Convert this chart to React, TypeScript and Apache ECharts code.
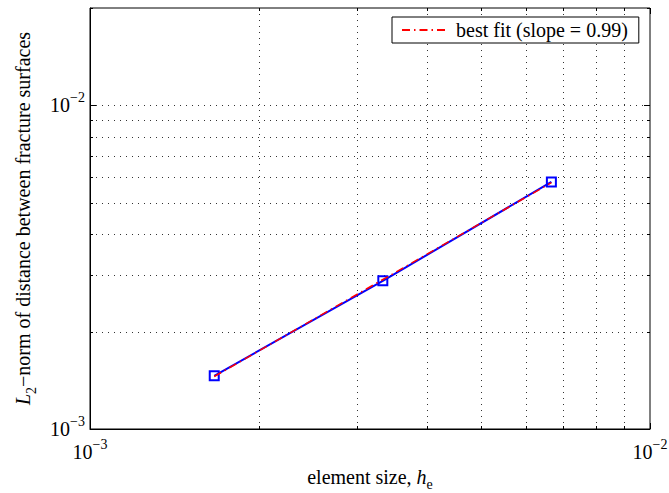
import React, { useEffect, useRef } from "react";
import * as echarts from "echarts";

// ---- data ----
const X_MIN = 0.001;
const X_MAX = 0.01;
const Y_MIN = 0.001;
const Y_MAX = 0.02;

const elementSize = [0.0016667, 0.0033333, 0.0066667];
const l2Norm = [0.00146, 0.00287, 0.0058];

const fitX = [0.0016667, 0.0066667];
const fitY = [0.001453, 0.005774];
const fitName = "best fit (slope = 0.99)";

const xTicks = [0.001, 0.002, 0.003, 0.004, 0.005, 0.006, 0.007, 0.008, 0.009, 0.01];
const yTicks = [0.001, 0.002, 0.003, 0.004, 0.005, 0.006, 0.007, 0.008, 0.009, 0.01, 0.02];

const FONT = "'Liberation Serif', 'Times New Roman', serif";

const isPow10 = (v: number) => {
  const l = Math.log10(v);
  return Math.abs(l - Math.round(l)) < 1e-6;
};

const tickLabel = (v: number) => {
  if (!isPow10(v)) return "";
  const e = Math.round(Math.log10(v));
  return "{b|10}{s|" + (e < 0 ? "\u2212" + Math.abs(e) : String(e)) + "}";
};

const labelRich = {
  b: { fontFamily: FONT, fontSize: 20, color: "#000", lineHeight: 30, verticalAlign: "middle" },
  s: { fontFamily: FONT, fontSize: 14, color: "#000", lineHeight: 14, verticalAlign: "top" },
};

const nameRich = {
  n: { fontFamily: FONT, fontSize: 20, color: "#000", lineHeight: 30, verticalAlign: "middle" },
  i: { fontFamily: FONT, fontSize: 20, fontStyle: "italic", color: "#000", lineHeight: 30, verticalAlign: "middle" },
  sub: { fontFamily: FONT, fontSize: 14, color: "#000", lineHeight: 13, verticalAlign: "bottom" },
};

function renderXTick(params: any, api: any) {
  const v = api.value(0);
  const cs = params.coordSys;
  const p = api.coord([v, Y_MIN]);
  const x = Math.round(p[0]) + 0.5;
  const top = cs.y;
  const bottom = cs.y + cs.height;
  const len = isPow10(v) ? 6 : 3;
  const children: any[] = [];
  if (x > cs.x + 2 && x < cs.x + cs.width - 2) {
    children.push({
      type: "line",
      shape: { x1: x, y1: bottom, x2: x, y2: top },
      style: { stroke: "#333", lineWidth: 1, lineDash: [1, 5] },
      silent: true,
    });
  }
  children.push({ type: "line", shape: { x1: x, y1: bottom, x2: x, y2: bottom - len }, style: { stroke: "#000", lineWidth: 1 } });
  children.push({ type: "line", shape: { x1: x, y1: top, x2: x, y2: top + len }, style: { stroke: "#000", lineWidth: 1 } });
  return { type: "group", children };
}

function renderYTick(params: any, api: any) {
  const v = api.value(1);
  const cs = params.coordSys;
  const p = api.coord([X_MIN, v]);
  const y = Math.round(p[1]) + 0.5;
  const left = cs.x;
  const right = cs.x + cs.width;
  const len = isPow10(v) ? 6 : 3;
  const children: any[] = [];
  if (y > cs.y + 2 && y < cs.y + cs.height - 2) {
    children.push({
      type: "line",
      shape: { x1: left, y1: y, x2: right, y2: y },
      style: { stroke: "#333", lineWidth: 1, lineDash: [1, 5] },
      silent: true,
    });
  }
  children.push({ type: "line", shape: { x1: left, y1: y, x2: left + len, y2: y }, style: { stroke: "#000", lineWidth: 1 } });
  children.push({ type: "line", shape: { x1: right, y1: y, x2: right - len, y2: y }, style: { stroke: "#000", lineWidth: 1 } });
  return { type: "group", children };
}

export default function App() {
  const ref = useRef<HTMLDivElement>(null);

  useEffect(() => {
    if (!ref.current) return;
    const chart = echarts.init(ref.current, null, { renderer: "svg" });
    const option: any = {
      animation: false,
      backgroundColor: "#fff",
      textStyle: { fontFamily: FONT },
      grid: {
        left: 90,
        right: 19,
        top: 8,
        bottom: 64,
        show: true,
        containLabel: false,
        outerBoundsMode: "none",
        borderColor: "#000",
        borderWidth: 1,
        backgroundColor: "#fff",
      },
      legend: {
        data: [fitName],
        left: 392,
        top: 17,
        orient: "horizontal",
        padding: [3, 11, 3, 9],
        itemWidth: 43,
        itemHeight: 14,
        itemStyle: { opacity: 0 },
        borderColor: "#000",
        borderWidth: 1,
        backgroundColor: "#fff",
        textStyle: { fontFamily: FONT, fontSize: 20, color: "#000", padding: [0, 0, 0, 6] },
      },
      xAxis: {
        type: "log",
        logBase: 10,
        min: X_MIN,
        max: X_MAX,
        axisLine: { show: true, lineStyle: { color: "#000", width: 1 } },
        axisTick: { show: false },
        splitLine: { show: false },
        axisLabel: {
          formatter: tickLabel,
          margin: 8,
          rich: labelRich,
          showMinLabel: true,
          showMaxLabel: true,
        },
        name: "{n|element size, }{i|h}{sub|e}",
        nameLocation: "middle",
        nameGap: 31,
        nameTextStyle: { fontFamily: FONT, fontSize: 20, color: "#000", rich: nameRich },
      },
      yAxis: {
        type: "log",
        logBase: 10,
        min: Y_MIN,
        max: Y_MAX,
        axisLine: { show: true, lineStyle: { color: "#000", width: 1 } },
        axisTick: { show: false },
        splitLine: { show: false },
        axisLabel: {
          formatter: tickLabel,
          margin: 5,
          rich: labelRich,
          showMinLabel: true,
          showMaxLabel: true,
        },
        name: "{i|L}{sub|2}{n|\u2212norm of distance between fracture surfaces}",
        nameLocation: "middle",
        nameRotate: 90,
        nameGap: 52,
        nameTextStyle: { fontFamily: FONT, fontSize: 20, color: "#000", rich: nameRich },
      },
      series: [
        {
          type: "custom",
          name: "xgrid",
          renderItem: renderXTick,
          data: xTicks.map((v) => [v, Y_MIN]),
          silent: true,
          z: 1,
        },
        {
          type: "custom",
          name: "ygrid",
          renderItem: renderYTick,
          data: yTicks.map((v) => [X_MIN, v]),
          silent: true,
          z: 1,
        },
        {
          type: "line",
          name: "data",
          data: elementSize.map((x, i) => [x, l2Norm[i]]),
          symbol: "rect",
          symbolSize: 9,
          showSymbol: true,
          lineStyle: { color: "#0000ff", width: 2 },
          itemStyle: { color: "rgba(0,0,0,0)", borderColor: "#0000ff", borderWidth: 2 },
          z: 3,
        },
        {
          type: "line",
          name: fitName,
          data: fitX.map((x, i) => [x, fitY[i]]),
          symbol: "none",
          showSymbol: false,
          lineStyle: { color: "#ff0000", width: 1.5, type: [8, 4, 1.5, 4] },
          itemStyle: { color: "#ff0000" },
          z: 4,
        },
      ],
    };
    chart.setOption(option);
    return () => chart.dispose();
  }, []);

  return (
    <div
      ref={ref}
      style={{ position: "fixed", left: 0, top: 0, width: 669, height: 493, background: "#fff" }}
    />
  );
}
